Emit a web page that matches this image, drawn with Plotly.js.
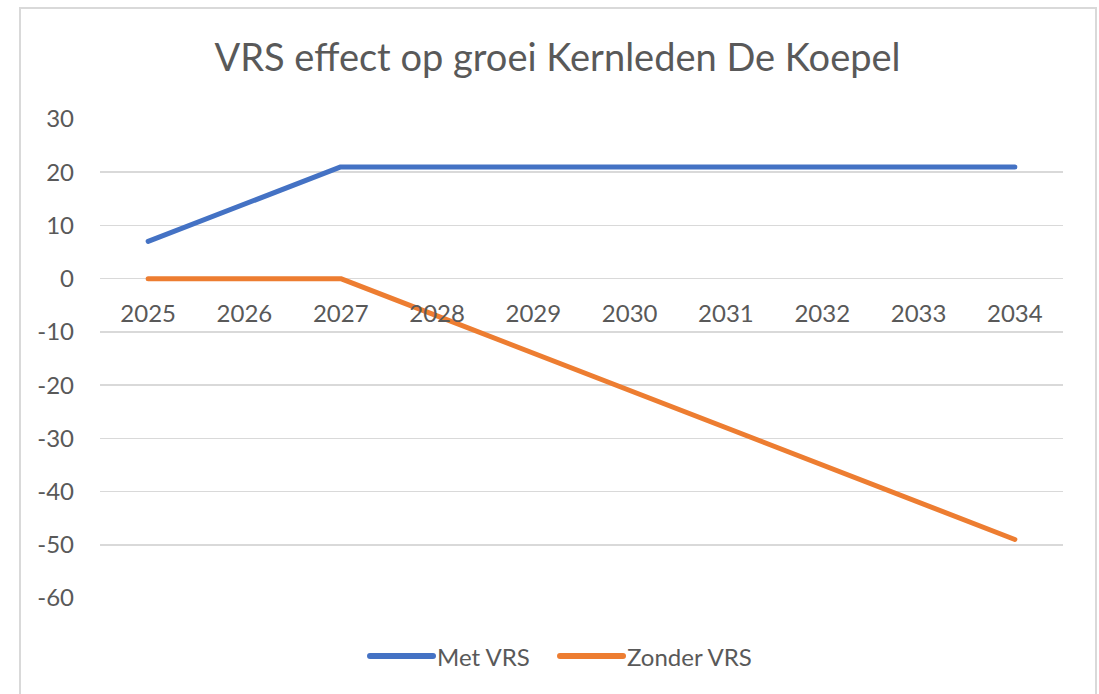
<!DOCTYPE html>
<html>
<head>
<meta charset="utf-8">
<script src="https://cdn.plot.ly/plotly-3.0.1.min.js"></script>
<style>
  html, body { margin: 0; padding: 0; background: #ffffff; }
  #wrap { position: relative; width: 1099px; height: 694px; overflow: hidden; }
  #chart { position: absolute; left: 0; top: 0; width: 1099px; height: 694px; }
  #frame { position: absolute; left: 19px; top: 7px; width: 1074px; height: 720px;
           border: 2px solid #d9d9d9; pointer-events: none; }
  #chart .js-line, #chart .shapelayer path { stroke-linecap: round; stroke-linejoin: round; }
</style>
</head>
<body>
<div id="wrap">
  <div id="chart"></div>
  <div id="frame"></div>
</div>
<script>
const years = ['2025','2026','2027','2028','2029','2030','2031','2032','2033','2034'];
const metVRS = [7, 14, 21, 21, 21, 21, 21, 21, 21, 21];
const zonderVRS = [0, 0, 0, -7, -14, -21, -28, -35, -42, -49];
const yTicks = [30, 20, 10, 0, -10, -20, -30, -40, -50, -60];
const yTickText = ['30', '20', '10', '0', '-10', '-20', '-30', '-40', '-50', '-60'];
const seriesNames = ['Met VRS', 'Zonder VRS'];
const seriesColors = ['#4472C4', '#ED7D31'];

const FONT = 'Lato, "Open Sans", sans-serif';
const TXT = '#595959';

const traces = [
  { x: years, y: metVRS, name: seriesNames[0], type: 'scatter', mode: 'lines',
    line: { color: seriesColors[0], width: 5 } },
  { x: years, y: zonderVRS, name: seriesNames[1], type: 'scatter', mode: 'lines',
    line: { color: seriesColors[1], width: 5 } }
];

// custom legend (Excel-like long line keys)
const legendY = -0.1211;
const legendKeys = [
  { x0: 0.2804, x1: 0.3458, tx: 0.3479 },
  { x0: 0.4777, x1: 0.5431, tx: 0.5452 }
];
const shapes = legendKeys.map((k, i) => ({
  type: 'line', xref: 'paper', yref: 'paper',
  x0: k.x0, x1: k.x1, y0: legendY, y1: legendY,
  line: { color: seriesColors[i], width: 6 }
}));
const annotations = legendKeys.map((k, i) => ({
  xref: 'paper', yref: 'paper', x: k.tx, y: legendY,
  xanchor: 'left', yanchor: 'middle', showarrow: false,
  text: seriesNames[i], font: { family: FONT, size: 24, color: TXT }
}));

const layout = {
  width: 1099, height: 694,
  margin: { l: 100, r: 36, t: 119, b: 96 },
  paper_bgcolor: '#ffffff', plot_bgcolor: '#ffffff',
  font: { family: FONT, color: TXT, size: 24 },
  title: { text: 'VRS effect op groei Kernleden De Koepel',
           font: { family: FONT, size: 38, color: TXT },
           xref: 'container', x: 0.5073, xanchor: 'center',
           yref: 'container', y: 0.9164, yanchor: 'middle' },
  xaxis: { type: 'category', range: [-0.5, 9.5], anchor: 'free', position: 60/90,
           showgrid: false, showline: false, zeroline: false, ticks: '',
           ticklabelstandoff: 18, tickfont: { size: 24, color: TXT } },
  yaxis: { range: [-60, 30], tickvals: yTicks, ticktext: yTickText, showgrid: true,
           gridcolor: '#d9d9d9', gridwidth: 1.5, zeroline: false, showline: false,
           ticks: '', ticklabelstandoff: 25, tickfont: { size: 24, color: TXT } },
  showlegend: false,
  shapes: shapes,
  annotations: annotations
};

Plotly.newPlot('chart', traces, layout, { displayModeBar: false, staticPlot: true });
</script>
</body>
</html>
